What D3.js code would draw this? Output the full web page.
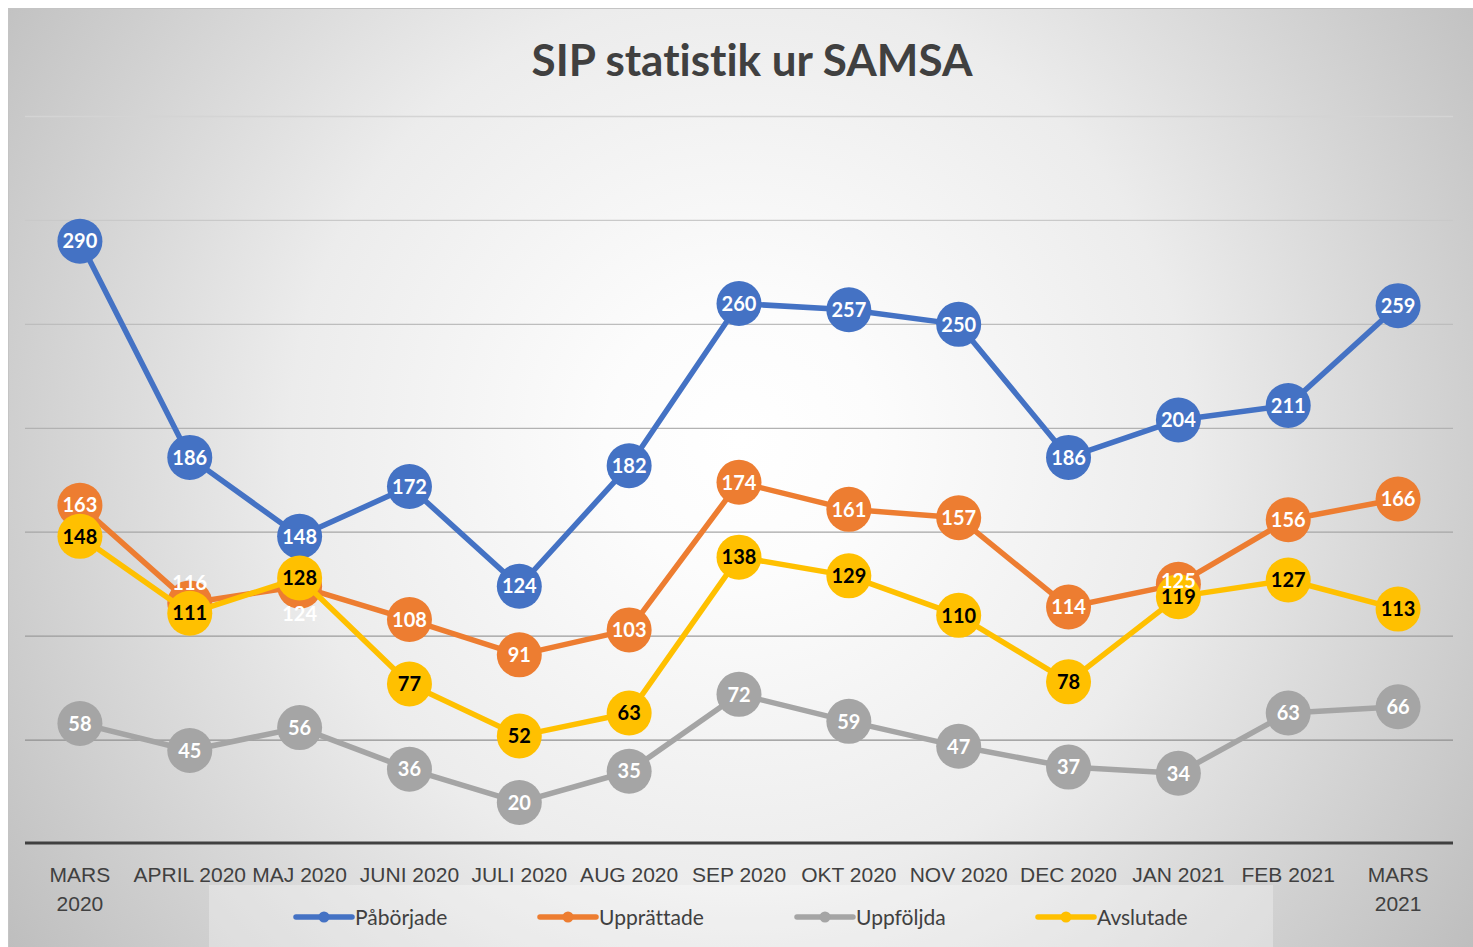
<!DOCTYPE html>
<html>
<head>
<meta charset="utf-8">
<script src="https://cdn.jsdelivr.net/npm/d3@7"></script>
<style>
  body { margin: 0; background: #fff; }
  svg { display: block; font-family: Lato, "Open Sans", sans-serif; font-variant-ligatures: none; }
</style>
</head>
<body>
<div id="chart-area"></div>
<script>
// data
var months = ["MARS 2020", "APRIL 2020", "MAJ 2020", "JUNI 2020", "JULI 2020", "AUG 2020",
  "SEP 2020", "OKT 2020", "NOV 2020", "DEC 2020", "JAN 2021", "FEB 2021", "MARS 2021"]
var tickLines = [["MARS", "2020"], ["APRIL 2020"], ["MAJ 2020"], ["JUNI 2020"], ["JULI 2020"], ["AUG 2020"],
  ["SEP 2020"], ["OKT 2020"], ["NOV 2020"], ["DEC 2020"], ["JAN 2021"], ["FEB 2021"], ["MARS", "2021"]]
var seriesNames = ["Påbörjade", "Upprättade", "Uppföljda", "Avslutade"]
var paborjade  = [290, 186, 148, 172, 124, 182, 260, 257, 250, 186, 204, 211, 259]
var upprattade = [163, 116, 124, 108, 91, 103, 174, 161, 157, 114, 125, 156, 166]
var uppfoljda  = [58, 45, 56, 36, 20, 35, 72, 59, 47, 37, 34, 63, 66]
var avslutade  = [148, 111, 128, 77, 52, 63, 138, 129, 110, 78, 119, 127, 113]
var gridValues = [50, 100, 150, 200, 250, 300, 350]

var allSeries = [paborjade, upprattade, uppfoljda, avslutade]
var colors = ["#4472C4", "#ED7D31", "#A5A5A5", "#FFC000"]
var labelColors = ["#fff", "#fff", "#fff", "#000"]

var cw = 1473, ch = 947

var svg = d3.select("#chart-area").append("svg")
    .attr("width", cw)
    .attr("height", ch)

var defs = svg.append("defs")
var grad = defs.append("radialGradient")
    .attr("id", "bg")
    .attr("gradientUnits", "userSpaceOnUse")
    .attr("cx", 740).attr("cy", 440).attr("r", 900)
grad.append("stop").attr("offset", 0).attr("stop-color", "#ffffff")
grad.append("stop").attr("offset", 0.15).attr("stop-color", "#fcfcfc")
grad.append("stop").attr("offset", 0.5).attr("stop-color", "#ececec")
grad.append("stop").attr("offset", 1).attr("stop-color", "#bdbdbd")

svg.append("rect")
    .attr("x", 8.5).attr("y", 8.5)
    .attr("width", cw).attr("height", ch)
    .attr("fill", "url(#bg)")
    .attr("stroke", "#c4c4c4")
    .attr("stroke-width", 1)

var x = d3.scaleBand()
    .domain(months)
    .range([25, 1453])

var y = d3.scaleLinear()
    .domain([0, 350])
    .range([844, 116.5])

var gridColor = d3.scaleLinear()
    .domain([350, 50])
    .range(["#d4d4d4", "#8f8f8f"])

svg.append("text")
    .attr("x", 752)
    .attr("y", 76)
    .attr("text-anchor", "middle")
    .attr("font-size", "44px")
    .attr("font-weight", "bold")
    .attr("fill", "#404040")
    .text("SIP statistik ur SAMSA")

// gridlines
svg.append("g").selectAll("line")
    .data(gridValues)
    .enter().append("line")
    .attr("x1", 25).attr("x2", 1453)
    .attr("y1", d => y(d)).attr("y2", d => y(d))
    .attr("stroke", d => gridColor(d))
    .attr("stroke-width", 1.3)

// x axis
var xAxis = d3.axisBottom(x).tickSize(0).tickPadding(0).tickFormat("")
var xAxisGroup = svg.append("g")
    .attr("transform", "translate(0,843)")
    .call(xAxis)
xAxisGroup.select(".domain")
    .attr("d", "M25,0H1453")
    .attr("stroke", "#404040")
    .attr("stroke-width", 3)

xAxisGroup.selectAll(".tick").each(function(d, i) {
    var t = d3.select(this).append("text")
        .attr("fill", "#404040")
        .attr("font-size", "21px")
        .attr("text-anchor", "middle")
    tickLines[i].forEach(function(line, j) {
        t.append("tspan").attr("x", 0).attr("y", 39 + j * 29).text(line)
    })
})

// legend background
svg.append("rect")
    .attr("x", 209).attr("y", 885)
    .attr("width", 1064).attr("height", 62)
    .attr("fill", "#ffffff")
    .attr("opacity", 0.3)

var cx = (d, i) => x(months[i]) + x.bandwidth() / 2

var line = d3.line()
    .x(cx)
    .y(d => y(d))

allSeries.forEach(function(vals, s) {
    var sg = svg.append("g").attr("class", "series")
    sg.append("path")
        .datum(vals)
        .attr("d", line)
        .attr("fill", "none")
        .attr("stroke", colors[s])
        .attr("stroke-width", 5.5)
        .attr("stroke-linejoin", "round")

    sg.selectAll("circle")
        .data(vals)
        .enter().append("circle")
        .attr("cx", cx)
        .attr("cy", d => y(d))
        .attr("r", 22.5)
        .attr("fill", colors[s])
})

// data labels sit on top of every series, like in Excel
// label tweaks for the crowded orange labels
var labelShift = {"1-1": -20, "1-2": 28, "1-10": -3}
var labels = svg.append("g").attr("class", "labels")
allSeries.forEach(function(vals, s) {
    labels.append("g").selectAll("text")
        .data(vals)
        .enter().append("text")
        .attr("x", cx)
        .attr("y", (d, i) => y(d) + (labelShift[s + "-" + i] || 0))
        .attr("dy", "0.36em")
        .attr("text-anchor", "middle")
        .attr("font-size", "20px")
        .attr("font-weight", "bold")
        .attr("fill", labelColors[s])
        .text(d => d)
})

// legend
var legendX = [296, 540, 797, 1038]
var legend = svg.append("g").attr("class", "legend")
var items = legend.selectAll(".legend-item")
    .data(seriesNames)
    .enter().append("g")
    .attr("class", "legend-item")
    .attr("transform", (d, i) => "translate(" + legendX[i] + ", 917)")

items.append("line")
    .attr("x1", 0).attr("x2", 56)
    .attr("stroke", (d, i) => colors[i])
    .attr("stroke-width", 5.5)
    .attr("stroke-linecap", "round")
items.append("circle")
    .attr("cx", 28).attr("r", 5.5)
    .attr("fill", (d, i) => colors[i])
items.append("text")
    .attr("x", 59)
    .attr("dy", "0.36em")
    .attr("font-size", "21px")
    .attr("fill", "#404040")
    .text(d => d)
</script>
</body>
</html>
